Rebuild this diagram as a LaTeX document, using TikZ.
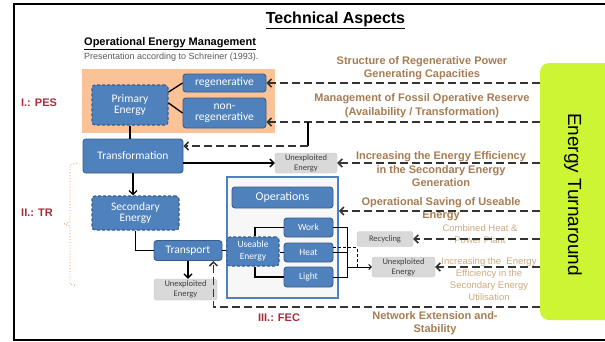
\documentclass[tikz,border=0pt]{standalone}
\usepackage{fontspec}
\setmainfont{Liberation Sans}
\newfontfamily\calfont{Carlito}
\usetikzlibrary{arrows.meta}
\definecolor{bblue}{RGB}{79,129,189}
\definecolor{bborder}{RGB}{56,93,138}
\definecolor{peach}{RGB}{250,194,150}
\definecolor{limeg}{RGB}{204,245,51}
\definecolor{labbrown}{RGB}{166,124,82}
\definecolor{lightbrown}{RGB}{205,170,130}
\definecolor{darkred}{RGB}{165,45,55}
\definecolor{ggray}{RGB}{217,217,217}
\definecolor{braceor}{RGB}{230,150,90}
\begin{document}
\begin{tikzpicture}[x=1pt,y=-1pt,
  box/.style={rounded corners=3pt, fill=bblue, draw=bborder, line width=0.9pt, text=white, align=center, inner sep=0pt, font=\calfont\fontsize{11.5}{11}\selectfont},
  dbox/.style={box, dash pattern=on 3pt off 2pt, line width=1.1pt},
  gbox/.style={rounded corners=2.5pt, fill=ggray, draw=gray!45, text=black!75, align=center, inner sep=0pt, font=\calfont\fontsize{8.5}{10}\selectfont},
  lab/.style={text=labbrown, align=center, font=\bfseries\fontsize{11}{13.5}\selectfont},
  llab/.style={text=lightbrown, align=center, font=\fontsize{9.5}{12}\selectfont},
  lvl/.style={text=darkred, font=\bfseries\fontsize{11}{13}\selectfont},
  dl/.style={draw=black!80, line width=1.5pt, dash pattern=on 8pt off 4pt},
  sl/.style={draw=black, line width=1.3pt},
  tl/.style={draw=black, line width=0.9pt},
  tip/.style={-{Straight Barb[length=4pt,width=8pt]}},
  stip/.style={-{Straight Barb[length=2.5pt,width=5pt]}},
]
\path[use as bounding box] (0,0) rectangle (605,341);
% frame
\draw[line width=2.5pt] (607,4) -- (14,4) -- (14,340) -- (607,340);
% titles
\node[font=\bfseries\fontsize{16}{18}\selectfont] (title) at (335.5,20) {\underline{Technical Aspects}};
\node[anchor=west, inner sep=0pt, font=\bfseries\fontsize{11}{13}\selectfont] (oem) at (84,44) {\underline{Operational Energy Management}};
\node[anchor=west, inner sep=0pt, text=black!65, font=\fontsize{9}{10}\selectfont] (pres) at (84,57.5) {Presentation according to Schreiner (1993).};
% level labels
\node[lvl] (pes) at (39,103) {I.: PES};
\node[lvl] (tr) at (37,213) {II.: TR};
\node[lvl] (fec) at (279,318) {III.: FEC};
\draw[braceor, dotted, line width=0.9pt] (77,163) -- (70,165) -- (70,222) -- (64,224) -- (70,226) -- (70,284) -- (77,286);
% PES block
\node[fill=peach, minimum width=193pt, minimum height=64pt, inner sep=0pt] (pesbg) at (178.5,101) {};
\node[dbox, minimum width=76pt, minimum height=40pt] (PE) at (130,105) {Primary\\Energy};
\node[box, minimum width=83pt, minimum height=18pt] (regen) at (224.5,83) {regenerative};
\node[box, minimum width=83pt, minimum height=30pt] (nonreg) at (224.5,113) {non-\\regenerative};
% TR block
\node[box, minimum width=100pt, minimum height=34pt] (Trans) at (133,156) {Transformation};
\node[gbox, minimum width=62pt, minimum height=20pt] (UE1) at (306,163) {Unexploited\\Energy};
\node[dbox, minimum width=87pt, minimum height=34pt] (SE) at (135.5,213) {Secondary\\Energy};
\node[box, minimum width=68pt, minimum height=20pt] (Transport) at (188,250.5) {Transport};
\node[gbox, minimum width=63pt, minimum height=21pt] (UE3) at (185.5,289.5) {Unexploited\\Energy};
% FEC block
\node[draw=bblue, line width=1.8pt, fill=black!3, minimum width=111pt, minimum height=121pt, inner sep=0pt] (opsf) at (282.5,237.5) {};
\node[box, minimum width=101pt, minimum height=21pt, font=\calfont\fontsize{12}{12}\selectfont] (Ops) at (282.5,197.5) {Operations};
\node[dbox, minimum width=52pt, minimum height=29pt, font=\calfont\fontsize{9.5}{12}\selectfont] (Useable) at (253,251.5) {Useable\\Energy};
\node[box, minimum width=49pt, minimum height=19pt, font=\calfont\fontsize{9.5}{11}\selectfont] (Work) at (308.5,227.5) {Work};
\node[box, minimum width=49pt, minimum height=19pt, font=\calfont\fontsize{9.5}{11}\selectfont] (Heat) at (308.5,252.5) {Heat};
\node[box, minimum width=49pt, minimum height=20pt, font=\calfont\fontsize{9.5}{11}\selectfont] (Light) at (308.5,277) {Light};
\node[gbox, minimum width=56pt, minimum height=15pt] (Recyc) at (385,239) {Recycling};
\node[gbox, minimum width=63pt, minimum height=20pt] (UE2) at (403.5,267) {Unexploited\\Energy};
% Energy Turnaround
\node[fill=limeg, rounded corners=9pt, minimum width=80pt, minimum height=257pt, inner sep=0pt] (ET) at (580,191.5) {};
\node[rotate=-90, font=\fontsize{19}{20}\selectfont] (ETt) at (573,194.5) {Energy Turnaround};
% measure labels
\node[lab] (L1) at (422,68) {Structure of Regenerative Power\\Generating Capacities};
\node[lab] (L2) at (422,105.5) {Management of Fossil Operative Reserve\\(Availability / Transformation)};
\node[lab] (L3) at (441,169.5) {Increasing the Energy Efficiency\\in the Secondary Energy\\Generation};
\node[lab] (L4) at (441,209) {Operational Saving of Useable\\Energy};
\node[llab] (L5) at (480,234) {Combined Heat \&\\Power Plant};
\node[llab] (L6) at (489,279.5) {Increasing the \ Energy\\Efficiency in the\\Secondary Energy\\Utilisation};
\node[lab] (L7) at (435,323) {Network Extension and-\\Stability};
% connectors PES
\draw[sl] ([yshift=13pt]PE.east) -- (regen.west);
\draw[sl] ([yshift=2pt]PE.east) -- (nonreg.west);
\draw[sl] (PE.south) -- (PE.south |- Trans.north);
\draw[dl,tip] (ET.west |- regen.east) -- (regen.east);
\draw[dl,tip] (ET.west |- 0,122) -- (nonreg.east |- 0,122);
\coordinate (fb) at (308,122);
\coordinate (fb2) at (308,146);
\draw[sl] (fb) -- (fb2);
\draw[dl,tip] (fb2) -- (Trans.east |- fb2);
% connectors TR
\draw[sl,tip] (Trans.east |- 0,163) -- (UE1.west);
\draw[dl,tip] (ET.west |- UE1.east) -- (UE1.east);
\draw[sl,tip] (Trans.south) -- (Trans.south |- SE.north);
\draw[sl] (SE.south) |- (Transport.west);
\draw[sl,tip] (Transport.south) -- (Transport.south |- UE3.north);
\draw[dl,tip] (ET.west |- 0,307) -| ([xshift=-9pt]Transport.south east);
\draw[sl] (Transport.east) -- (Transport.east -| Useable.west);
% connectors FEC
\draw[dl,tip] (ET.west |- 0,211) -- (opsf.east |- 0,211);
\draw[sl] ([xshift=2pt]Useable.north) |- (Work.west);
\draw[sl] (Useable.east |- Heat.west) -- (Heat.west);
\draw[sl] ([xshift=2pt]Useable.south) |- (Light.west);
\coordinate (rb) at (347,267);
\draw[tl] (Work.east) -- (Work.east -| rb) -- (Light.east -| rb) -- (Light.east);
\draw[tl] (Heat.east) -- (Heat.east -| rb);
\draw[tl,stip] (rb) -- (UE2.west |- rb);
\coordinate (rc) at (357,247.5);
\draw[tl, dash pattern=on 3pt off 2pt] ([yshift=5pt]Heat.east) -- (rc) -- (rc |- rb);
\draw[dl,tip] (ET.west |- Recyc.east) -- (Recyc.east);
\draw[dl,tip] (ET.west |- UE2.east) -- (UE2.east);
\end{tikzpicture}
\end{document}
